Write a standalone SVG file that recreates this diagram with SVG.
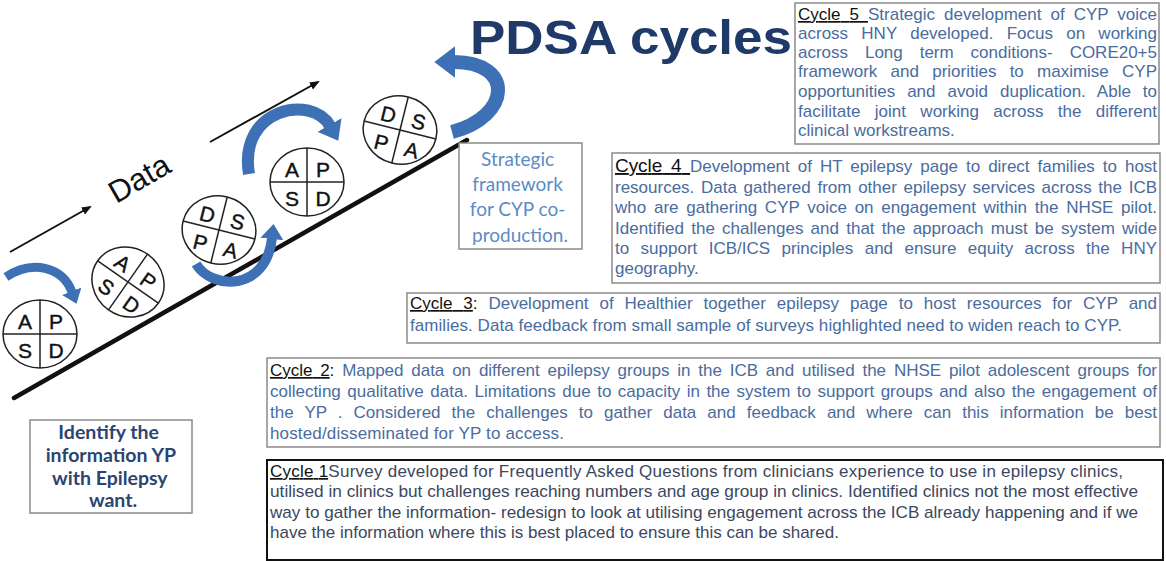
<svg xmlns="http://www.w3.org/2000/svg" xmlns:xlink="http://www.w3.org/1999/xlink" width="1166" height="561" viewBox="0 0 1166 561">
  <style>
    .wheel-rim { fill: #fff; stroke: #222; stroke-width: 1.5; }
    .wheel-div { stroke: #222; stroke-width: 1.5; }
    .wheel-txt { font-family: "Liberation Sans", Arial, sans-serif; font-size: 21px; fill: #111; stroke: #111; stroke-width: 0.4; text-anchor: middle; }
    .box { fill: #fff; stroke: #8a8a8a; stroke-width: 1.5; }
    .box-dark { fill: #fff; stroke: #111; stroke-width: 2; }
    .para { font-family: "Liberation Sans", Arial, sans-serif; fill: #4a6c9e; }
    .para-dark { font-family: "Liberation Sans", Arial, sans-serif; fill: #3c4760; }
    .lbl { fill: #111; text-decoration: underline; }
    .flow { fill: none; stroke: #3d70b4; }
    .note { font-family: Lato, "Open Sans", sans-serif; text-anchor: middle; }
  </style>
  <defs>
    <marker id="blue-head" viewBox="0 0 16 24" markerWidth="1.5" markerHeight="2.3" refX="1" refY="12" orient="auto" markerUnits="strokeWidth" preserveAspectRatio="none">
      <path d="M0,0 L16,12 L0,24 z" fill="#3d70b4"/>
    </marker>
    <marker id="thin-head" viewBox="0 0 10 10" markerWidth="5" markerHeight="5" refX="8" refY="5" orient="auto" markerUnits="strokeWidth">
      <path d="M0,1 L10,5 L0,9 z" fill="#111"/>
    </marker>
    <!-- PDSA wheel, quadrants Act / Plan / Study / Do -->
    <g id="wheel-apsd">
      <ellipse class="wheel-rim" rx="37" ry="34"/>
      <line class="wheel-div" x1="-37" y1="0" x2="37" y2="0"/>
      <line class="wheel-div" x1="0" y1="-34" x2="0" y2="34"/>
      <text class="wheel-txt" x="-15" y="-5">A</text>
      <text class="wheel-txt" x="16" y="-5">P</text>
      <text class="wheel-txt" x="-15" y="24">S</text>
      <text class="wheel-txt" x="16" y="24">D</text>
    </g>
    <!-- PDSA wheel, quadrants Do / Study / Plan / Act -->
    <g id="wheel-dspa">
      <ellipse class="wheel-rim" rx="37" ry="34"/>
      <line class="wheel-div" x1="-37" y1="0" x2="37" y2="0"/>
      <line class="wheel-div" x1="0" y1="-34" x2="0" y2="34"/>
      <text class="wheel-txt" x="-15" y="-5">D</text>
      <text class="wheel-txt" x="16" y="-5">S</text>
      <text class="wheel-txt" x="-15" y="24">P</text>
      <text class="wheel-txt" x="16" y="24">A</text>
    </g>
  </defs>

  <rect width="1166" height="561" fill="#fff"/>

  <!-- title -->
  <text id="title" x="470" y="54" font-family="Liberation Sans, Arial, sans-serif" font-size="48" font-weight="bold" fill="#1f3a68" textLength="322" lengthAdjust="spacingAndGlyphs">PDSA cycles</text>

  <!-- connectors: progress line, data arrows, cycle arrows -->
  <g id="connectors">
    <line x1="14" y1="398" x2="467" y2="140" stroke="#111" stroke-width="4.5" stroke-linecap="round"/>
    <line x1="10" y1="252" x2="90" y2="207" stroke="#111" stroke-width="2" marker-end="url(#thin-head)"/>
    <line x1="210" y1="142" x2="318" y2="82" stroke="#111" stroke-width="2" marker-end="url(#thin-head)"/>
    <text transform="translate(139,178) rotate(-30)" x="0" y="11" font-family="Liberation Sans, Arial, sans-serif" font-size="31" fill="#111" text-anchor="middle">Data</text>

    <path class="flow" stroke-width="9" d="M6,277 C32,260 62,266 72,292" marker-end="url(#blue-head)"/>
    <path class="flow" stroke-width="10" d="M196,264 C212,290 266,292 272,238" marker-end="url(#blue-head)"/>
    <path class="flow" stroke-width="12" d="M249,174 C238,108 312,94 330,126" marker-end="url(#blue-head)"/>
    <path class="flow" stroke-width="14" d="M452,132 C512,116 514,62 454,62" marker-end="url(#blue-head)"/>
  </g>

  <!-- PDSA wheels climbing the line -->
  <g id="wheel-1"><use xlink:href="#wheel-apsd" transform="translate(40,334)"/></g>
  <g id="wheel-2"><use xlink:href="#wheel-apsd" transform="translate(128,282) rotate(35)"/></g>
  <g id="wheel-3"><use xlink:href="#wheel-dspa" transform="translate(219,230) rotate(14)"/></g>
  <g id="wheel-4"><use xlink:href="#wheel-apsd" transform="translate(307,182)"/></g>
  <g id="wheel-5"><use xlink:href="#wheel-dspa" transform="translate(400,130) rotate(14)"/></g>

  <!-- goal box -->
  <g id="goal">
    <rect class="box" x="30" y="420" width="162" height="93" stroke="#9a9a9a" stroke-width="2"/>
    <text class="note" font-size="19.5" font-weight="bold" fill="#2c4470">
      <tspan x="111" y="439">Identify the</tspan>
      <tspan x="113" y="462">information YP</tspan>
      <tspan x="112" y="485">with Epilepsy</tspan>
      <tspan x="113" y="507">want.</tspan>
    </text>
  </g>

  <!-- strategic framework box -->
  <g id="framework">
    <rect class="box" x="459" y="143" width="123" height="106" stroke="#aaa"/>
    <text class="note" font-size="19" fill="#5b8cc6">
      <tspan x="520" y="166">Strategic</tspan>
      <tspan x="520" y="191">framework</tspan>
      <tspan x="520" y="216">for CYP co-</tspan>
      <tspan x="520" y="242">production.</tspan>
    </text>
  </g>

  <!-- cycle 5 -->
  <g id="cycle-5" font-size="17">
    <rect class="box" x="795" y="3" width="364" height="141"/>
    <text class="para" x="798" y="20" word-spacing="4.2" textLength="359" lengthAdjust="spacing"><tspan class="lbl">Cycle 5 </tspan>Strategic development of CYP voice</text>
    <text class="para" x="798" y="39" word-spacing="8.5" textLength="359" lengthAdjust="spacing">across HNY developed. Focus on working</text>
    <text class="para" x="798" y="58" word-spacing="12.2" textLength="359" lengthAdjust="spacing">across Long term conditions- CORE20+5</text>
    <text class="para" x="798" y="77" word-spacing="8.5" textLength="359" lengthAdjust="spacing">framework and priorities to maximise CYP</text>
    <text class="para" x="798" y="97" word-spacing="7.3" textLength="359" lengthAdjust="spacing">opportunities and avoid duplication. Able to</text>
    <text class="para" x="798" y="117" word-spacing="9.6" textLength="359" lengthAdjust="spacing">facilitate joint working across the different</text>
    <text class="para" x="798" y="136">clinical workstreams.</text>
  </g>

  <!-- cycle 4 -->
  <g id="cycle-4" font-size="17">
    <rect class="box" x="612" y="153" width="548" height="130"/>
    <text class="para" x="615" y="172" word-spacing="3.4" textLength="542" lengthAdjust="spacing"><tspan class="lbl" font-size="19">Cycle 4 </tspan>Development of HT epilepsy page to direct families to host</text>
    <text class="para" x="615" y="193" word-spacing="2" textLength="542" lengthAdjust="spacing">resources. Data gathered from other epilepsy services across the ICB</text>
    <text class="para" x="615" y="213" word-spacing="3" textLength="542" lengthAdjust="spacing">who are gathering CYP voice on engagement within the NHSE pilot.</text>
    <text class="para" x="615" y="234" word-spacing="2.5" textLength="542" lengthAdjust="spacing">Identified the challenges and that the approach must be system wide</text>
    <text class="para" x="615" y="254" word-spacing="6.7" textLength="542" lengthAdjust="spacing">to support ICB/ICS principles and ensure equity across the HNY</text>
    <text class="para" x="615" y="274">geography.</text>
  </g>

  <!-- cycle 3 -->
  <g id="cycle-3" font-size="17">
    <rect class="box" x="407" y="293" width="753" height="50"/>
    <text class="para" x="410" y="309" word-spacing="6.2" textLength="747" lengthAdjust="spacing"><tspan class="lbl">Cycle 3</tspan><tspan fill="#111">:</tspan> Development of Healthier together epilepsy page to host resources for CYP and</text>
    <text class="para" x="410" y="331" textLength="712" lengthAdjust="spacing">families. Data feedback from small sample of surveys highlighted need to widen reach to CYP.</text>
  </g>

  <!-- cycle 2 -->
  <g id="cycle-2" font-size="17">
    <rect class="box" x="267" y="358" width="893" height="89"/>
    <text class="para" x="270" y="376" word-spacing="3.2" textLength="887" lengthAdjust="spacing"><tspan class="lbl">Cycle 2</tspan><tspan fill="#111">:</tspan> Mapped data on different epilepsy groups in the ICB and utilised the NHSE pilot adolescent groups for</text>
    <text class="para" x="270" y="397" word-spacing="1.8" textLength="887" lengthAdjust="spacing">collecting qualitative data. Limitations due to capacity in the system to support groups and also the engagement of</text>
    <text class="para" x="270" y="418" word-spacing="6.3" textLength="887" lengthAdjust="spacing">the YP . Considered the challenges to gather data and feedback and where can this information be best</text>
    <text class="para" x="270" y="439" textLength="294" lengthAdjust="spacing">hosted/disseminated for YP to access.</text>
  </g>

  <!-- cycle 1 -->
  <g id="cycle-1" font-size="17">
    <rect class="box-dark" x="267" y="460" width="896" height="100"/>
    <text class="para-dark" x="270" y="477" textLength="853" lengthAdjust="spacing"><tspan class="lbl">Cycle 1</tspan>Survey developed for Frequently Asked Questions from clinicians experience to use in epilepsy clinics,</text>
    <text class="para-dark" x="270" y="497" textLength="868" lengthAdjust="spacingAndGlyphs">utilised in clinics but challenges reaching numbers and age group in clinics. Identified clinics not the most effective</text>
    <text class="para-dark" x="270" y="518" textLength="868" lengthAdjust="spacingAndGlyphs">way to gather the information- redesign to look at utilising engagement across the ICB already happening and if we</text>
    <text class="para-dark" x="270" y="538">have the information where this is best placed to ensure this can be shared.</text>
  </g>
</svg>
